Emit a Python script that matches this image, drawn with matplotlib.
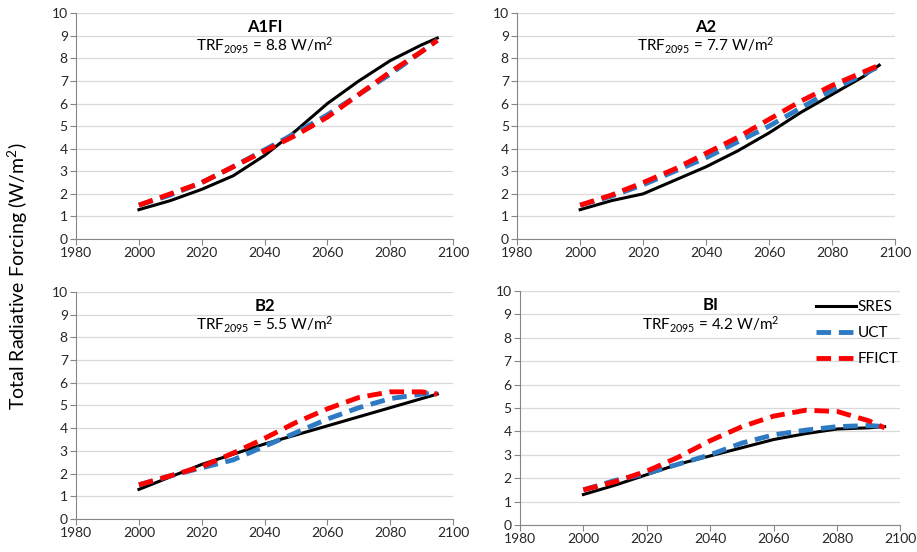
import numpy as np
import matplotlib.pyplot as plt

plt.rcParams['font.family'] = ['Lato', 'DejaVu Sans']
plt.rcParams['mathtext.default'] = 'regular'

years = [2000, 2010, 2020, 2030, 2040, 2050, 2060, 2070, 2080, 2090, 2095]

a1fi_sres = [1.3, 1.7, 2.2, 2.8, 3.7, 4.8, 6.0, 7.0, 7.9, 8.6, 8.9]
a1fi_uct = [1.5, 1.95, 2.5, 3.2, 3.95, 4.7, 5.5, 6.4, 7.3, 8.3, 8.8]
a1fi_ffict = [1.5, 2.0, 2.5, 3.2, 3.9, 4.6, 5.4, 6.4, 7.4, 8.3, 8.8]

a2_sres = [1.3, 1.7, 2.0, 2.6, 3.2, 3.9, 4.7, 5.6, 6.4, 7.2, 7.7]
a2_uct = [1.5, 1.9, 2.4, 3.0, 3.6, 4.3, 5.0, 5.8, 6.6, 7.3, 7.65]
a2_ffict = [1.5, 1.95, 2.5, 3.1, 3.8, 4.5, 5.3, 6.1, 6.8, 7.4, 7.7]

b2_sres = [1.3, 1.85, 2.4, 2.85, 3.3, 3.7, 4.1, 4.5, 4.9, 5.3, 5.5]
b2_uct = [1.5, 1.9, 2.25, 2.6, 3.2, 3.8, 4.4, 4.9, 5.3, 5.5, 5.55]
b2_ffict = [1.5, 1.9, 2.3, 2.9, 3.55, 4.25, 4.85, 5.35, 5.6, 5.6, 5.5]

b1_sres = [1.3, 1.7, 2.15, 2.6, 2.95, 3.3, 3.65, 3.9, 4.1, 4.15, 4.2]
b1_uct = [1.5, 1.9, 2.2, 2.6, 3.0, 3.5, 3.85, 4.05, 4.2, 4.25, 4.2]
b1_ffict = [1.5, 1.85, 2.3, 2.9, 3.6, 4.2, 4.65, 4.9, 4.85, 4.45, 4.15]

panels = [
    ('A1FI', 'TRF$_{2095}$ = 8.8 W/m$^{2}$', a1fi_sres, a1fi_uct, a1fi_ffict),
    ('A2', 'TRF$_{2095}$ = 7.7 W/m$^{2}$', a2_sres, a2_uct, a2_ffict),
    ('B2', 'TRF$_{2095}$ = 5.5 W/m$^{2}$', b2_sres, b2_uct, b2_ffict),
    ('BI', 'TRF$_{2095}$ = 4.2 W/m$^{2}$', b1_sres, b1_uct, b1_ffict),
]

boxes = [
    [0.083, 0.567, 0.411, 0.409],
    [0.564, 0.567, 0.412, 0.409],
    [0.083, 0.060, 0.411, 0.411],
    [0.567, 0.049, 0.415, 0.424],
]

fig = plt.figure(figsize=(9.17, 5.52), dpi=100)
for box, (name, trf, sres, uct, ffict) in zip(boxes, panels):
    ax = fig.add_axes(box)
    ax.plot(years, sres, color='black', lw=2.2, label='SRES')
    ax.plot(years, uct, color='#2E7BC4', lw=3.5, dashes=(3, 1.6), label='UCT')
    ax.plot(years, ffict, color='#FF0000', lw=3.5, dashes=(3, 1.6), label='FFICT')
    ax.set_xlim(1980, 2100)
    ax.set_ylim(0, 10)
    ax.set_xticks(np.arange(1980, 2101, 20))
    ax.set_yticks(np.arange(0, 11, 1))
    ax.grid(axis='y', color='#D9D9D9', lw=0.9)
    ax.set_axisbelow(True)
    for s in ['top', 'right']:
        ax.spines[s].set_visible(False)
    for s in ['left', 'bottom']:
        ax.spines[s].set_color('#868686')
    ax.tick_params(labelsize=10, labelcolor='#262626', length=4, color='#868686', pad=2)
    ax.text(0.5, 0.94, name, transform=ax.transAxes, ha='center', va='center',
            fontsize=12, fontweight='bold')
    ax.text(0.5, 0.855, trf, transform=ax.transAxes, ha='center', va='center',
            fontsize=11)
    if name == 'BI':
        ax.legend(loc='upper right', bbox_to_anchor=(1.03, 1.02), frameon=False,
                  fontsize=11, handlelength=2.6, handletextpad=0.1,
                  labelspacing=0.8)

fig.text(0.02, 0.5, 'Total Radiative Forcing (W/m$^{2}$)', rotation=90,
         ha='center', va='center', fontsize=14)

fig.savefig('out.png', dpi=100)
